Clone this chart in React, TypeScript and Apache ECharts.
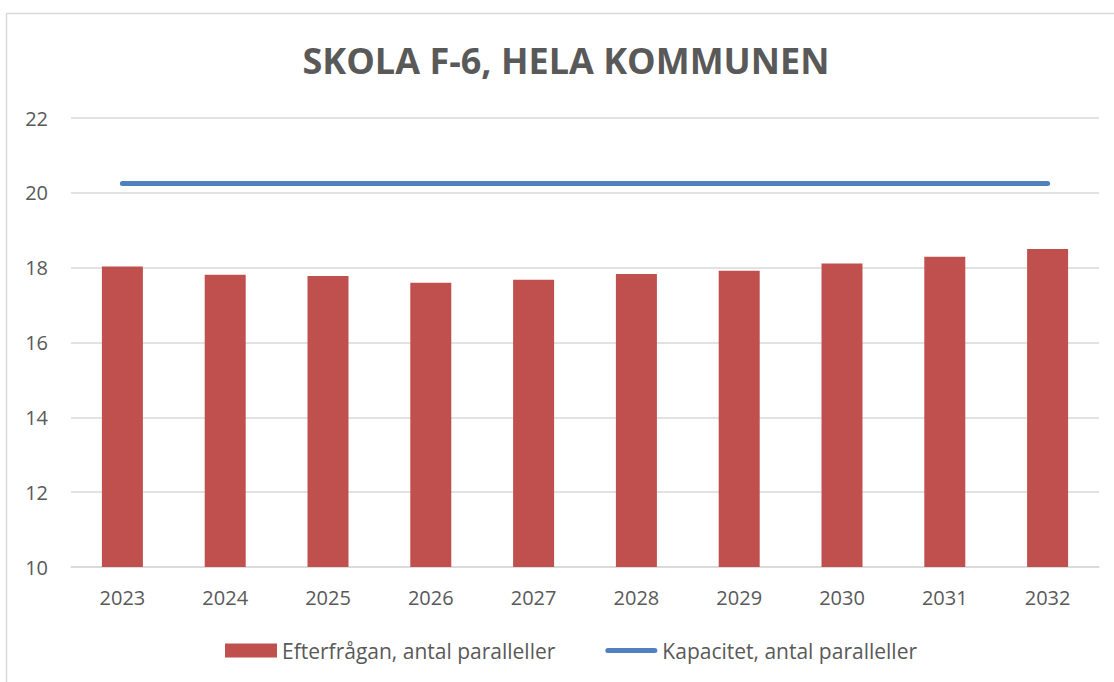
import React, { useEffect, useRef } from "react";
import * as echarts from "echarts";

const years = ["2023", "2024", "2025", "2026", "2027", "2028", "2029", "2030", "2031", "2032"];
const demand = [18.03, 17.81, 17.78, 17.6, 17.68, 17.83, 17.92, 18.11, 18.29, 18.5];
const capacity = [20.25, 20.25, 20.25, 20.25, 20.25, 20.25, 20.25, 20.25, 20.25, 20.25];
const titleText = "SKOLA F-6, HELA KOMMUNEN";
const demandName = "Efterfrågan, antal paralleller";
const capacityName = "Kapacitet, antal paralleller";

const FONT = "'Open Sans', sans-serif";
const GRAY = "#595959";
const RED = "#c0504d";
const BLUE = "#4f81bd";

export default function App() {
  const ref = useRef<HTMLDivElement>(null);
  useEffect(() => {
    const chart = echarts.init(ref.current!, null, { renderer: "svg" });
    chart.setOption({
      animation: false,
      backgroundColor: "#ffffff",
      textStyle: { fontFamily: FONT },
      graphic: [
        {
          type: "rect",
          shape: { x: 6.5, y: 13.5, width: 1300, height: 900 },
          style: { fill: "none", stroke: "#d9d9d9", lineWidth: 1.5 },
          silent: true,
        },
        {
          type: "text",
          style: {
            x: 566,
            y: 60,
            text: titleText,
            fontFamily: FONT,
            fontSize: 36,
            fontWeight: "bold",
            fill: GRAY,
            textAlign: "center",
            textVerticalAlign: "middle",
          },
        },
      ],
      legend: {
        left: 225,
        top: 640,
        padding: 0,
        itemWidth: 52,
        itemHeight: 14,
        itemGap: 50,
        textStyle: { color: GRAY, fontSize: 21, fontFamily: FONT },
        data: [
          { name: demandName, icon: "rect", itemStyle: { color: RED } },
          {
            name: capacityName,
            icon: "path://M2.5,0 L49.5,0 A2.5,2.5 0 0 1 49.5,5 L2.5,5 A2.5,2.5 0 0 1 2.5,0 Z",
            itemStyle: { color: BLUE },
          },
        ],
      },
      grid: { left: 71, right: 15, top: 118, bottom: 115, containLabel: false },
      xAxis: {
        type: "category",
        data: years,
        axisLine: { lineStyle: { color: "#d9d9d9", width: 1.5 } },
        axisTick: { show: false },
        axisLabel: { color: GRAY, fontSize: 20, margin: 20, fontFamily: FONT },
      },
      yAxis: {
        type: "value",
        min: 10,
        max: 22,
        interval: 2,
        axisLine: { show: false },
        axisTick: { show: false },
        axisLabel: { color: GRAY, fontSize: 20, margin: 23, fontFamily: FONT },
        splitLine: { lineStyle: { color: "#d9d9d9", width: 1.5 } },
      },
      series: [
        {
          name: demandName,
          type: "bar",
          data: demand,
          barWidth: 41,
          itemStyle: { color: RED },
        },
        {
          name: capacityName,
          type: "line",
          data: capacity,
          symbol: "none",
          lineStyle: { color: BLUE, width: 5, cap: "round" },
          itemStyle: { color: BLUE },
        },
      ],
    });
    return () => chart.dispose();
  }, []);
  return (
    <div
      ref={ref}
      style={{ position: "fixed", left: 0, top: 0, width: 1114, height: 682 }}
    />
  );
}
